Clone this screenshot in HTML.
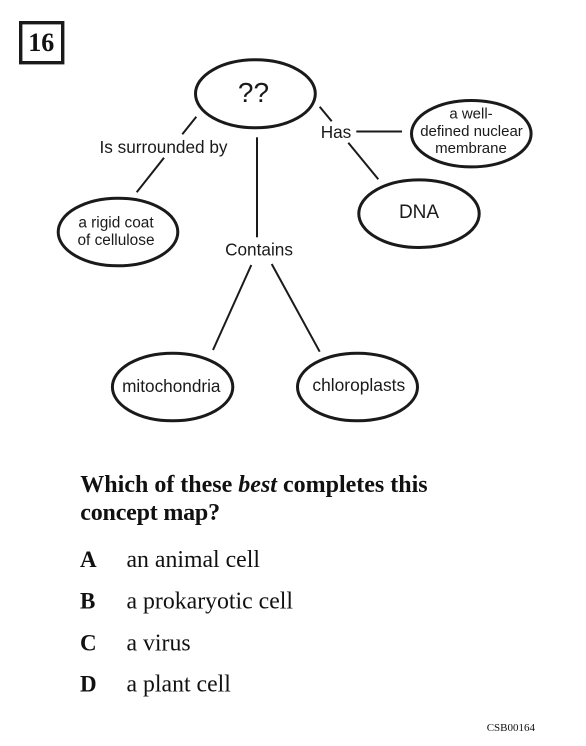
<!DOCTYPE html>
<html>
<head>
<meta charset="utf-8">
<style>
html,body{margin:0;padding:0;background:#fff;}
#page{position:relative;width:586px;height:746px;overflow:hidden;background:#fff;}
svg{position:absolute;left:0;top:0;}
.sans{font-family:"Liberation Sans",sans-serif;fill:#1a1a1a;}
.serif{font-family:"Liberation Serif",serif;fill:#111;}
</style>
</head>
<body>
<div id="page">
<svg width="586" height="746" viewBox="0 0 586 746">
  <g>
    <rect x="20.7" y="22.7" width="42" height="40" fill="#fff" stroke="#1a1a1a" stroke-width="3.4"/>
    <text x="41.2" y="51" text-anchor="middle" class="serif" font-size="26" font-weight="bold">16</text>
  </g>
  <g stroke="#1a1a1a" stroke-width="2" fill="none">
    <line x1="196.3" y1="116.7" x2="182.3" y2="134.3"/>
    <line x1="164" y1="157.7" x2="136.7" y2="192.3"/>
    <line x1="257" y1="137.3" x2="257" y2="237.3"/>
    <line x1="251.3" y1="265" x2="213" y2="350"/>
    <line x1="271.7" y1="264" x2="319.7" y2="351.7"/>
    <line x1="319.7" y1="106.7" x2="331.7" y2="121.3"/>
    <line x1="348.3" y1="142.7" x2="378.3" y2="179.3"/>
    <line x1="356.3" y1="131.5" x2="402" y2="131.5"/>
  </g>
  <g fill="#fff" stroke="#1a1a1a" stroke-width="3">
    <ellipse cx="255.4" cy="93.8" rx="59.9" ry="34"/>
    <ellipse cx="471.3" cy="133.7" rx="59.8" ry="33.2"/>
    <ellipse cx="419" cy="213.7" rx="60.2" ry="33.8"/>
    <ellipse cx="118" cy="232" rx="59.8" ry="33.8"/>
    <ellipse cx="172.6" cy="387" rx="60.2" ry="33.8"/>
    <ellipse cx="357.5" cy="387" rx="60" ry="33.8"/>
  </g>
  <g class="sans" text-anchor="middle">
    <text x="253.5" y="102" font-size="28" class="sans">??</text>
    <text x="163.5" y="153" font-size="17.2" class="sans">Is surrounded by</text>
    <text x="336" y="138" font-size="17.2" class="sans">Has</text>
    <text x="259" y="255.5" font-size="17.2" class="sans">Contains</text>
    <text x="471" y="118.3" font-size="15" class="sans">a well-</text>
    <text x="471.5" y="136" font-size="15" class="sans">defined nuclear</text>
    <text x="471" y="152.8" font-size="15" class="sans">membrane</text>
    <text x="419" y="218.2" font-size="19" class="sans">DNA</text>
    <text x="116" y="227.5" font-size="15.4" class="sans">a rigid coat</text>
    <text x="116" y="245.2" font-size="15.4" class="sans">of cellulose</text>
    <text x="171.3" y="391.8" font-size="17.2" class="sans">mitochondria</text>
    <text x="358.8" y="390.8" font-size="17.4" class="sans">chloroplasts</text>
  </g>
  <g class="serif" font-size="24" font-weight="bold">
    <text x="80.3" y="491.8" class="serif">Which of these <tspan font-style="italic">best</tspan> completes this</text>
    <text x="80.3" y="520" class="serif" letter-spacing="-0.2">concept map?</text>
  </g>
  <g>
    <text x="80" y="567" class="serif" font-size="23" font-weight="bold">A</text>
    <text x="126.5" y="567" class="serif" font-size="23.8">an animal cell</text>
  </g>
  <g>
    <text x="80" y="608.5" class="serif" font-size="23" font-weight="bold">B</text>
    <text x="126.5" y="608.5" class="serif" font-size="23.8">a prokaryotic cell</text>
  </g>
  <g>
    <text x="80" y="650.5" class="serif" font-size="23" font-weight="bold">C</text>
    <text x="126.5" y="650.5" class="serif" font-size="23.8">a virus</text>
  </g>
  <g>
    <text x="80" y="691.5" class="serif" font-size="23" font-weight="bold">D</text>
    <text x="126.5" y="691.5" class="serif" font-size="23.8">a plant cell</text>
  </g>
  <text x="535" y="731" text-anchor="end" class="serif" font-size="11">CSB00164</text>
</svg>
</div>
</body>
</html>
